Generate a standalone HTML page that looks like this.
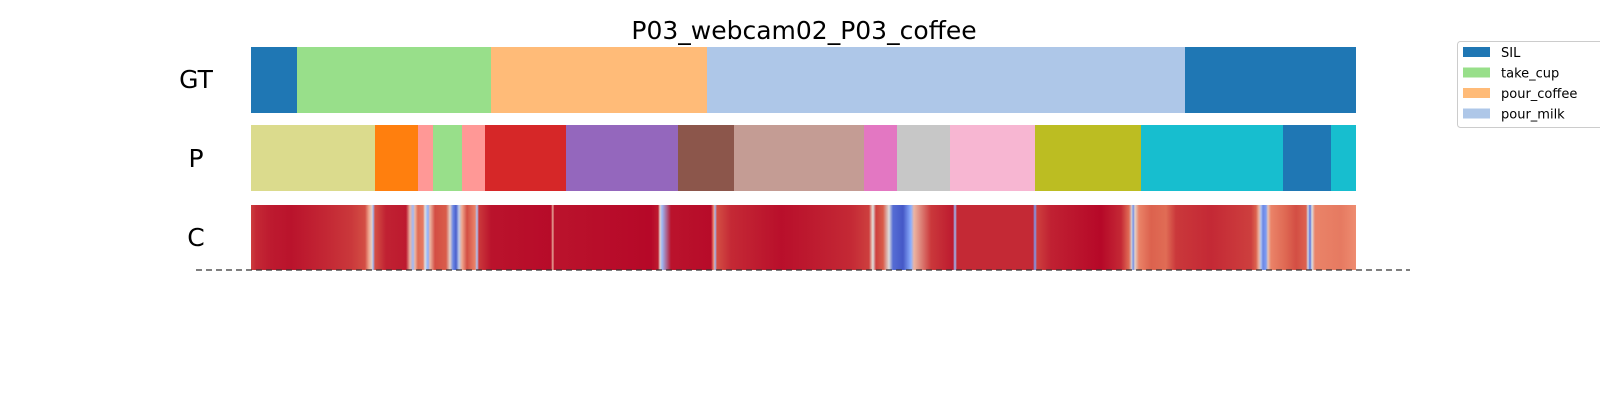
<!DOCTYPE html>
<html><head><meta charset="utf-8"><style>
body{margin:0;background:#fff;width:1600px;height:400px;overflow:hidden}
svg{display:block;font-family:"DejaVu Sans","Liberation Sans",sans-serif}
</style></head><body>
<svg id="chart" width="1600" height="400">
<defs><linearGradient id="confGrad" x1="0" x2="1" y1="0" y2="0"></linearGradient></defs>
<text x="804" y="39" text-anchor="middle" font-size="25">P03_webcam02_P03_coffee</text>
<text x="196" y="88" text-anchor="middle" font-size="25">GT</text>
<text x="196" y="167" text-anchor="middle" font-size="25">P</text>
<text x="196" y="246" text-anchor="middle" font-size="25">C</text>
<g id="gt"></g><g id="pred"></g><g id="conf"></g>
<line x1="196" x2="1410" y1="270" y2="270" stroke="#333" stroke-width="1.3" stroke-dasharray="6,4"/>
<g>
<rect x="1457.5" y="41.5" width="160" height="86" rx="3" fill="#fff" stroke="#ccc"/>
<g id="legend"></g>
</g>
</svg>
<script>
const total = 1105;
const gtStarts = [0, 46, 240, 456, 934];
const gtLabels = ["SIL","take_cup","pour_coffee","pour_milk","SIL"];
const predStarts = [0,124,167,182,211,234,315,427,483,613,646,699,784,890,1032,1080];
const predColors = ["#dbdb8d","#ff7f0e","#ff9896","#98df8a","#ff9896","#d62728","#9467bd","#8c564b","#c49c94","#e377c2","#c7c7c7","#f7b6d2","#bcbd22","#17becf","#1f77b4","#17becf"];
const confX = [
  0,5,20,40,78,100,114,118,121,122,
  124,135,155,159,162,164,167,172,174,177,
  179,184,195,199,202,205,208,211,216,224,
  226,228,240,300,302,303,400,407,409,411,
  420,460,463,464,466,480,530,560,600,618,
  621,622,625,632,638,642,652,660,663,680,
  702,704,706,720,782,784,786,800,850,870,
  878,881,882,884,888,900,915,925,960,1000,
  1005,1008,1010,1012,1015,1017,1020,1035,1045,1055,
  1057,1059,1061,1064,1090,1105
];
const confV = [
  0.92,0.95,0.97,0.98,0.95,0.93,0.9,0.7,0.55,0.3,
  0.9,0.96,0.97,0.65,0.3,0.65,0.85,0.82,0.5,0.25,
  0.65,0.9,0.88,0.55,0.15,0.05,0.4,0.7,0.9,0.8,
  0.35,0.93,0.98,0.99,0.65,0.98,0.995,0.97,0.55,0.3,
  0.98,0.99,0.75,0.3,0.9,0.95,0.985,0.97,0.95,0.92,
  0.6,0.5,0.92,0.88,0.5,0.08,0.03,0.25,0.65,0.93,
  0.97,0.3,0.95,0.95,0.95,0.2,0.92,0.96,0.995,0.95,
  0.85,0.45,0.15,0.55,0.8,0.87,0.85,0.93,0.95,0.92,
  0.87,0.65,0.35,0.15,0.2,0.6,0.8,0.86,0.9,0.87,
  0.45,0.1,0.5,0.8,0.82,0.78
];
const legendLabels = ["SIL","take_cup","pour_coffee","pour_milk"];
const legendColors = ["#1f77b4","#98df8a","#ffbb78","#aec7e8"];

const X0 = 251, W = 1105;
const xs = v => X0 + v / total * W;
const NS = "http://www.w3.org/2000/svg";
const gtColorMap = {"SIL":"#1f77b4","take_cup":"#98df8a","pour_coffee":"#ffbb78","pour_milk":"#aec7e8"};
function mk(tag, parent, attrs){const e=document.createElementNS(NS,tag);for(const k in attrs)e.setAttribute(k,attrs[k]);parent.appendChild(e);return e;}
const gtG = document.getElementById('gt');
gtStarts.forEach((s,i)=>{
  const e = i+1<gtStarts.length?gtStarts[i+1]:total;
  const r = mk('rect', gtG, {x:xs(s), y:47, width:xs(e)-xs(s), height:66, fill:gtColorMap[gtLabels[i]]});
  
  
});
const pG = document.getElementById('pred');
predStarts.forEach((s,i)=>{
  const e = i+1<predStarts.length?predStarts[i+1]:total;
  const r = mk('rect', pG, {x:xs(s), y:125, width:xs(e)-xs(s), height:66, fill:predColors[i]});
  
  
});
function coolwarm(t){
  const stops=[[0,[59,76,192]],[0.25,[141,176,254]],[0.5,[221,221,221]],[0.75,[244,154,123]],[0.875,[219,96,76]],[1,[180,4,38]]];
  for(let i=0;i<stops.length-1;i++){const [a,ca]=stops[i],[b,cb]=stops[i+1];
    if(t<=b){const f=(t-a)/(b-a);return 'rgb('+ca.map((c,j)=>Math.round(c+(cb[j]-c)*f)).join(',')+')';}}
  return 'rgb(180,4,38)';
}
const grad = document.getElementById('confGrad');
const n = Math.min(confX.length, confV.length);
for(let i=0;i<n;i++){ mk('stop', grad, {offset:(confX[i]/total*100)+'%', 'stop-color':coolwarm(confV[i])}); }
const cr = mk('rect', document.getElementById('conf'), {x:X0, y:205, width:W, height:65, fill:'url(#confGrad)'});


const lg = document.getElementById('legend');
legendLabels.forEach((l,i)=>{
  const y = 47 + i*20.5;
  const r = mk('rect', lg, {x:1463, y:y, width:27, height:10, fill:legendColors[i]});
  
  
  const t = mk('text', lg, {x:1501, y:y+10, 'font-size':13});
  t.textContent = l;
  
  
});
</script>
</body></html>
